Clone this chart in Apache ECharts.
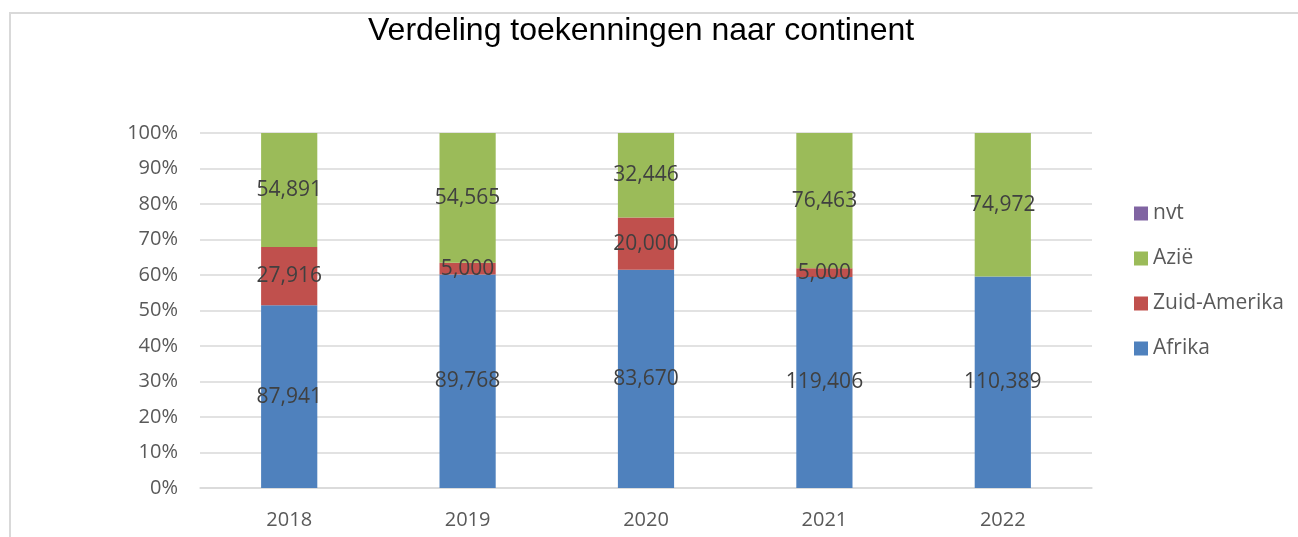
<!DOCTYPE html>
<html>
<head>
<meta charset="utf-8">
<script src="https://cdn.jsdelivr.net/npm/echarts@6/dist/echarts.min.js"></script>
<style>
html,body{margin:0;padding:0;background:#fff;}
#c{width:1298px;height:537px;}
</style>
</head>
<body>
<div id="c"></div>
<script>
const categories = ['2018', '2019', '2020', '2021', '2022'];
const afrika = [87941, 89768, 83670, 119406, 110389];
const zuidAmerika = [27916, 5000, 20000, 5000, 0];
const azie = [54891, 54565, 32446, 76463, 74972];
const nvt = [0, 0, 0, 0, 0];
const yTicks = ['0%', '10%', '20%', '30%', '40%', '50%', '60%', '70%', '80%', '90%', '100%'];

const totals = categories.map((_, i) => afrika[i] + zuidAmerika[i] + azie[i] + nvt[i]);
const pct = arr => arr.map((v, i) => ({ value: v / totals[i] * 100, raw: v }));

const labelFont = '"Open Sans", "Liberation Sans", sans-serif';
function mk(name, arr, color) {
  return {
    name: name,
    type: 'bar',
    stack: 'total',
    barWidth: '31.5%',
    data: pct(arr),
    itemStyle: { color: color },
    label: {
      show: true,
      position: 'inside',
      color: '#404040',
      fontSize: 21,
      fontFamily: labelFont,
      formatter: p => p.data.raw ? p.data.raw.toLocaleString('en-US') : ''
    },
    emphasis: { disabled: true }
  };
}

const chart = echarts.init(document.getElementById('c'), null, { renderer: 'canvas' });
chart.setOption({
  animation: false,
  backgroundColor: '#fff',
  title: {
    text: 'Verdeling toekenningen naar continent',
    left: 363,
    top: 10,
    textStyle: { fontFamily: '"Liberation Sans", Arial, sans-serif', fontSize: 32, fontWeight: 'normal', color: '#000' }
  },
  graphic: [{
    type: 'rect',
    shape: { x: 10, y: 13, width: 1400, height: 700 },
    style: { fill: 'none', stroke: '#d9d9d9', lineWidth: 2 },
    silent: true
  }],
  grid: { left: 200, right: 206, top: 133, bottom: 49, containLabel: false },
  legend: {
    orient: 'vertical',
    left: 1129,
    top: 198,
    itemWidth: 14,
    itemHeight: 14,
    itemGap: 24,
    icon: 'rect',
    data: ['nvt', 'Azië', 'Zuid-Amerika', 'Afrika'],
    textStyle: { fontFamily: labelFont, fontSize: 21, lineHeight: 18, color: '#595959' }
  },
  xAxis: {
    type: 'category',
    data: categories,
    axisLine: { lineStyle: { color: '#d9d9d9', width: 1.5 } },
    axisTick: { show: false },
    axisLabel: { fontFamily: labelFont, fontSize: 20, color: '#595959', margin: 22 }
  },
  yAxis: {
    type: 'value',
    min: 0,
    max: 100,
    interval: 10,
    axisLine: { show: false },
    axisTick: { show: false },
    splitLine: { lineStyle: { color: '#d9d9d9', width: 1.5 } },
    axisLabel: {
      fontFamily: labelFont, fontSize: 20, color: '#595959', margin: 22,
      formatter: v => yTicks[Math.round(v / 10)]
    }
  },
  series: [
    mk('Afrika', afrika, '#4F81BD'),
    mk('Zuid-Amerika', zuidAmerika, '#C0504D'),
    mk('Azië', azie, '#9BBB59'),
    mk('nvt', nvt, '#8064A2')
  ]
});
</script>
</body>
</html>
